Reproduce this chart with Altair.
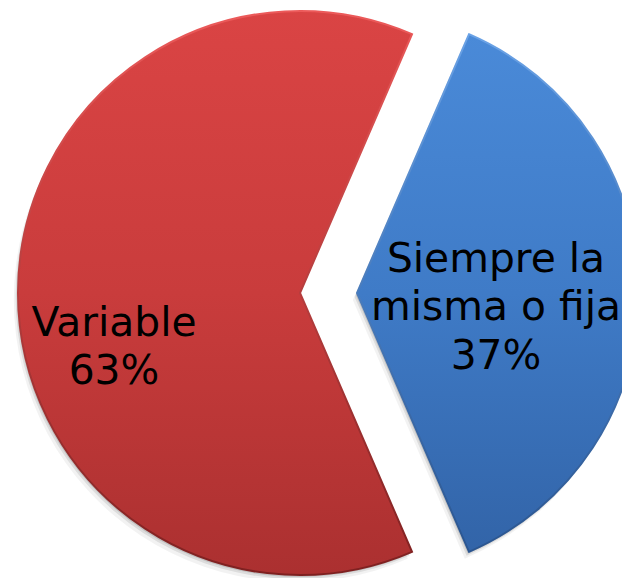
import math
import altair as alt
import pandas as pd

# ---- data ----
categories = ["Siempre la misma o fija", "Variable"]
values = [37, 63]
label_text = ["Siempre la\nmisma o fija\n37%", "Variable\n63%"]
slice_order = [0, 1]

df = pd.DataFrame({
    "category": categories,
    "value": values,
    "label": label_text,
    "order": slice_order,
})

# ---- layout / style ----
W, H = 614, 570
CX, CY = 320.5, 285          # pie centre (before explosion)
R = 282                      # pie radius
EXPLODE = 28.5               # distance each slice is pulled out
total = sum(values)
first_frac = values[0] / total
t0 = math.pi / 2 - math.pi * first_frac   # first slice centred on 3 o'clock
theta_scale = alt.Scale(domain=[0, 1], range=[t0, t0 + 2 * math.pi])

fills = [
    alt.LinearGradient(gradient="linear", x1=0, y1=0, x2=0, y2=1, stops=[
        alt.GradientStop(color="#4a8ad8", offset=0),
        alt.GradientStop(color="#3f7bc7", offset=0.5),
        alt.GradientStop(color="#3264a8", offset=1)]),
    alt.LinearGradient(gradient="linear", x1=0, y1=0, x2=0, y2=1, stops=[
        alt.GradientStop(color="#da4444", offset=0),
        alt.GradientStop(color="#c93c3c", offset=0.5),
        alt.GradientStop(color="#ab3030", offset=1)]),
]
strokes = [
    alt.LinearGradient(gradient="linear", x1=0, y1=0, x2=0, y2=1, stops=[
        alt.GradientStop(color="#6aa2e6", offset=0),
        alt.GradientStop(color="#2a5590", offset=1)]),
    alt.LinearGradient(gradient="linear", x1=0, y1=0, x2=0, y2=1, stops=[
        alt.GradientStop(color="#ec5a5a", offset=0),
        alt.GradientStop(color="#7e2020", offset=1)]),
]
label_radius = [139, 186]
label_dy = [-33.5, 30.5]

base = (
    alt.Chart(df)
    .transform_joinaggregate(total="sum(value)")
    .transform_window(cum="sum(value)", sort=[alt.SortField("order")], frame=[None, 0])
    .transform_calculate(
        start="(datum.cum - datum.value) / datum.total",
        end="datum.cum / datum.total",
        mid="(datum.cum - datum.value / 2) / datum.total",
    )
)

layers = []
cum = 0
centres = []
for i, cat in enumerate(categories):
    frac_mid = (cum + values[i] / 2) / total
    cum += values[i]
    ang = t0 + 2 * math.pi * frac_mid
    cx = CX + EXPLODE * math.sin(ang)
    cy = CY - EXPLODE * math.cos(ang)
    centres.append((cx, cy))

# soft shadows
for i, cat in enumerate(categories):
    cx, cy = centres[i]
    for off, op in [(7, 0.05), (4, 0.09), (2, 0.12)]:
        layers.append(
            base.transform_filter(alt.datum.category == cat)
            .mark_arc(radius=R, fill="#000000", opacity=op)
            .encode(
                theta=alt.Theta("start:Q", scale=theta_scale),
                theta2="end:Q",
                x=alt.value(cx - off * 0.6),
                y=alt.value(cy + off),
            )
        )

for i, cat in enumerate(categories):
    cx, cy = centres[i]
    layers.append(
        base.transform_filter(alt.datum.category == cat)
        .mark_arc(radius=R, fill=fills[i], stroke=strokes[i], strokeWidth=2)
        .encode(
            theta=alt.Theta("start:Q", scale=theta_scale),
            theta2="end:Q",
            x=alt.value(cx),
            y=alt.value(cy),
        )
    )

for i, cat in enumerate(categories):
    cx, cy = centres[i]
    layers.append(
        base.transform_filter(alt.datum.category == cat)
        .mark_text(
            radius=label_radius[i], dy=label_dy[i], font="DejaVu Sans",
            fontSize=40.8, lineHeight=48.5, lineBreak="\n", color="#000000",
            align="center", baseline="middle",
        )
        .encode(
            theta=alt.Theta("mid:Q", scale=theta_scale),
            text="label:N",
            x=alt.value(cx),
            y=alt.value(cy),
        )
    )

chart = (
    alt.layer(*layers)
    .properties(width=W, height=H, autosize=alt.AutoSizeParams(type="none"), padding=0)
    .configure_view(strokeWidth=0, stroke="transparent")
)

chart.save("out.html", embed_options={"renderer": "svg", "actions": False})
